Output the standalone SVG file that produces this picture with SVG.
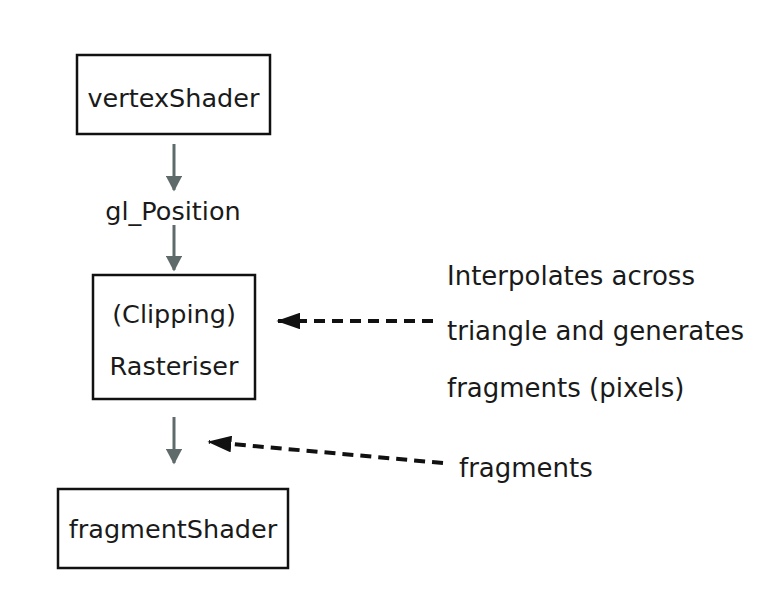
<svg xmlns="http://www.w3.org/2000/svg" width="762" height="614" viewBox="0 0 762 614">
<style>
.box{fill:#fff;stroke:#111;stroke-width:2.5}
.t{font-family:"DejaVu Sans",Verdana,sans-serif;font-size:25.5px;fill:#1a1a1a}
.r{font-size:26px}
.c{text-anchor:middle}
.flow{stroke:#5f6a6a;stroke-width:3;fill:none}
.dash{stroke:#111;stroke-width:4;stroke-dasharray:11 7;fill:none}
</style>
<defs>
<marker id="ga" markerWidth="5.3" markerHeight="5.6" refX="4.8" refY="2.8" orient="auto" markerUnits="strokeWidth" viewBox="0 0 5.3 5.6"><path d="M0,0 L5.3,2.8 L0,5.6 Z" fill="#5f6a6a"/></marker>
<marker id="ba" markerWidth="6" markerHeight="4.2" refX="5.6" refY="2.1" orient="auto" markerUnits="strokeWidth" viewBox="0 0 6 4.2"><path d="M0,0 L6,2.1 L0,4.2 Z" fill="#111"/></marker>
</defs>
<rect width="762" height="614" fill="#fff"/>
<g id="connectors">
<line class="flow" x1="174" y1="144" x2="174" y2="190" marker-end="url(#ga)"/>
<line class="flow" x1="174" y1="225" x2="174" y2="270" marker-end="url(#ga)"/>
<line class="flow" x1="174" y1="417" x2="174" y2="463" marker-end="url(#ga)"/>
<line class="dash" x1="433" y1="321" x2="278" y2="321" marker-end="url(#ba)"/>
<line class="dash" x1="443" y1="463" x2="209" y2="442" marker-end="url(#ba)"/>
</g>
<g id="vertexShader">
<rect class="box" x="77" y="55" width="193" height="79"/>
<text class="t c" x="173.5" y="107">vertexShader</text>
</g>
<g id="glPosition">
<text class="t c" x="173" y="220">gl_Position</text>
</g>
<g id="rasteriser">
<rect class="box" x="93" y="275" width="162" height="124"/>
<text class="t c" x="174" y="323">(Clipping)</text>
<text class="t c" x="174" y="375">Rasteriser</text>
</g>
<g id="fragmentShader">
<rect class="box" x="58" y="489" width="230" height="79"/>
<text class="t c" x="173" y="538">fragmentShader</text>
</g>
<g id="interpNote">
<text class="t r" x="447" y="285">Interpolates across</text>
<text class="t r" x="447" y="340">triangle and generates</text>
<text class="t r" x="447" y="397">fragments (pixels)</text>
</g>
<g id="fragNote">
<text class="t r" x="459" y="477">fragments</text>
</g>
</svg>
